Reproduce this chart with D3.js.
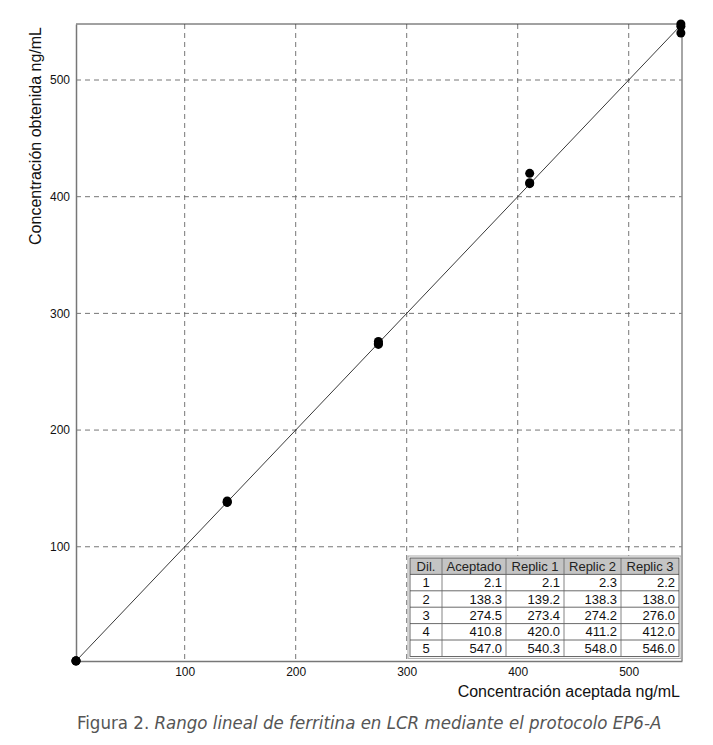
<!DOCTYPE html>
<html>
<head>
<meta charset="utf-8">
<script src="https://cdnjs.cloudflare.com/ajax/libs/d3/7.8.5/d3.min.js"></script>
<style>
  body { margin: 0; background: #fff; }
  svg { display: block; }
</style>
</head>
<body>
<div id="chart"></div>
<script>
// data
const dil = [1, 2, 3, 4, 5];
const aceptado = [2.1, 138.3, 274.5, 410.8, 547.0];
const replic1 = [2.1, 139.2, 273.4, 420.0, 540.3];
const replic2 = [2.3, 138.3, 274.2, 411.2, 548.0];
const replic3 = [2.2, 138.0, 276.0, 412.0, 546.0];
const headers = ["Dil.", "Aceptado", "Replic 1", "Replic 2", "Replic 3"];
const ticks = [100, 200, 300, 400, 500];

const W = 713, H = 745;
const mLeft = 76, mRight = 682, mTop = 24, mBottom = 661;
const FONT = "'Liberation Sans', Arial, sans-serif";

const svg = d3.select("#chart").append("svg")
    .attr("width", W)
    .attr("height", H)
    .style("font-family", FONT);

const x = d3.scaleLinear().domain([2.1, 548]).range([mLeft, mRight]);
const y = d3.scaleLinear().domain([2.1, 548]).range([mBottom, mTop]);

// grid
svg.append("g")
    .selectAll("line")
    .data(ticks)
    .enter().append("line")
    .attr("x1", d => x(d)).attr("x2", d => x(d))
    .attr("y1", mTop).attr("y2", mBottom)
    .attr("stroke", "#666").attr("stroke-width", 0.9)
    .attr("stroke-dasharray", "5,4");
svg.append("g")
    .selectAll("line")
    .data(ticks)
    .enter().append("line")
    .attr("x1", mLeft).attr("x2", mRight)
    .attr("y1", d => y(d)).attr("y2", d => y(d))
    .attr("stroke", "#666").attr("stroke-width", 0.9)
    .attr("stroke-dasharray", "5,4");

// frame
svg.append("line").attr("x1", mLeft).attr("x2", mRight).attr("y1", mTop).attr("y2", mTop)
    .attr("stroke", "#444").attr("stroke-width", 1);
svg.append("line").attr("x1", mRight).attr("x2", mRight).attr("y1", mTop).attr("y2", mBottom)
    .attr("stroke", "#888").attr("stroke-width", 1.5);

// axes
const xAxis = d3.axisBottom(x).tickValues(ticks).tickSize(0).tickPadding(6);
const yAxis = d3.axisLeft(y).tickValues(ticks).tickSize(0).tickPadding(6);

const gx = svg.append("g").attr("transform", "translate(0," + mBottom + ")").call(xAxis);
const gy = svg.append("g").attr("transform", "translate(" + mLeft + ",0)").call(yAxis);
[gx, gy].forEach(g => {
    g.attr("font-family", FONT);
    g.select(".domain").attr("stroke", "#777").attr("stroke-width", 1.5);
    g.selectAll("text").attr("font-size", "12px").attr("fill", "#111");
});

// identity line
svg.append("line")
    .attr("x1", x(2.1)).attr("y1", y(2.1))
    .attr("x2", x(548)).attr("y2", y(548))
    .attr("stroke", "#222").attr("stroke-width", 0.9);

// points
const pts = [];
aceptado.forEach((a, i) => {
    pts.push({ a: a, v: replic1[i] });
    pts.push({ a: a, v: replic2[i] });
    pts.push({ a: a, v: replic3[i] });
});
svg.append("g").selectAll("circle")
    .data(pts)
    .enter().append("circle")
    .attr("cx", d => x(d.a))
    .attr("cy", d => y(d.v))
    .attr("r", 4.5)
    .attr("fill", "#000");

// axis titles
svg.append("text")
    .attr("transform", "translate(41,136) rotate(-90)")
    .attr("text-anchor", "middle")
    .attr("font-size", "16px")
    .attr("fill", "#111")
    .text("Concentración obtenida ng/mL");
svg.append("text")
    .attr("x", 680).attr("y", 697)
    .attr("text-anchor", "end")
    .attr("font-size", "16px")
    .attr("fill", "#111")
    .text("Concentración aceptada ng/mL");

// caption
const cap = svg.append("text")
    .attr("x", 77).attr("y", 729)
    .attr("font-size", "18.5px")
    .attr("fill", "#555")
    .attr("font-family", "'Liberation Sans Narrow', 'DejaVu Sans Condensed', 'Noto Sans', sans-serif");
cap.append("tspan").text("Figura 2. ");
cap.append("tspan").attr("font-style", "italic")
    .text("Rango lineal de ferritina en LCR mediante el protocolo EP6-A");

// table
const colW = [32, 64, 58, 57, 58];
const tx = 410, ty = 558, rowH = 16.4;
const colX = [tx];
colW.forEach((w, i) => colX.push(colX[i] + w));
const tW = colX[colX.length - 1] - tx;
const rows = dil.map((d, i) => [String(d), aceptado[i].toFixed(1), replic1[i].toFixed(1),
    replic2[i].toFixed(1), replic3[i].toFixed(1)]);

const tbl = svg.append("g").attr("font-size", "13px").attr("font-family", FONT);
tbl.append("rect").attr("x", tx - 2).attr("y", ty - 2)
    .attr("width", tW + 4).attr("height", rowH * 6 + 4)
    .attr("fill", "#fff").attr("stroke", "#aaa").attr("stroke-width", 1);
tbl.append("rect").attr("x", tx).attr("y", ty)
    .attr("width", tW).attr("height", rowH)
    .attr("fill", "#c4c4c4");
tbl.append("rect").attr("x", tx).attr("y", ty)
    .attr("width", tW).attr("height", rowH * 6)
    .attr("fill", "none").attr("stroke", "#444").attr("stroke-width", 0.8);
// row lines
d3.range(1, 6).forEach(r => {
    tbl.append("line").attr("x1", tx).attr("x2", tx + tW)
        .attr("y1", ty + r * rowH).attr("y2", ty + r * rowH)
        .attr("stroke", "#444").attr("stroke-width", 0.8);
});
// column lines
colX.slice(1, -1).forEach(cx => {
    tbl.append("line").attr("x1", cx).attr("x2", cx)
        .attr("y1", ty).attr("y2", ty + rowH * 6)
        .attr("stroke", "#666").attr("stroke-width", 0.8);
});
headers.forEach((h, j) => {
    tbl.append("text")
        .attr("x", (colX[j] + colX[j + 1]) / 2)
        .attr("y", ty + rowH / 2 + 4.5)
        .attr("text-anchor", "middle")
        .attr("fill", "#222")
        .text(h);
});
rows.forEach((row, i) => {
    row.forEach((c, j) => {
        tbl.append("text")
            .attr("x", j === 0 ? (colX[0] + colX[1]) / 2 : colX[j + 1] - 4)
            .attr("y", ty + (i + 1) * rowH + rowH / 2 + 4.5)
            .attr("text-anchor", j === 0 ? "middle" : "end")
            .attr("fill", "#111")
            .text(c);
    });
});
</script>
</body>
</html>
